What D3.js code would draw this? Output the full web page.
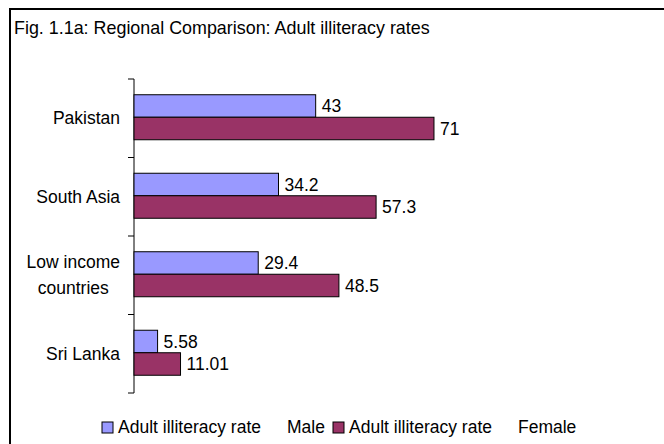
<!DOCTYPE html>
<html>
<head>
<meta charset="utf-8">
<script src="https://cdn.jsdelivr.net/npm/d3@7"></script>
<style>
  html, body { margin: 0; padding: 0; background: #fff; }
  svg { display: block; font-family: "Liberation Sans", Arial, sans-serif; }
</style>
</head>
<body>
<svg id="chart" width="664" height="444"></svg>
<script>
// Regional comparison of adult illiteracy rates (%), male vs female
const categories = ["Pakistan", "South Asia", "Low income\ncountries", "Sri Lanka"];
const seriesNames = ["Adult illiteracy rate   Male", "Adult illiteracy rate   Female"];
const maleValues = [43, 34.2, 29.4, 5.58];
const femaleValues = [71, 57.3, 48.5, 11.01];
const valueLabels = [["43", "34.2", "29.4", "5.58"], ["71", "57.3", "48.5", "11.01"]];
const titleText = "Fig. 1.1a: Regional Comparison: Adult illiteracy rates";

const colors = ["#9999FF", "#993366"];
const fontSize = 17.5;

const svg = d3.select("#chart");

// outer frame (top and left edges visible)
svg.append("path")
  .attr("d", "M10,444 L10,9 L664,9")
  .attr("fill", "none")
  .attr("stroke", "#000")
  .attr("stroke-width", 2);

svg.append("text")
  .attr("x", 14)
  .attr("y", 34)
  .attr("font-size", 17.9)
  .attr("fill", "#000")
  .text(titleText);

// scales
const x = d3.scaleLinear().domain([0, 80]).range([134, 472]);
const y0 = d3.scaleBand().domain(categories).range([79, 393]).paddingInner(0).paddingOuter(0);
const y1 = d3.scaleBand().domain([0, 1]).range([0, y0.bandwidth()]).paddingInner(0).paddingOuter(0.744);

const rows = categories.map((c, i) => ({ cat: c, vals: [maleValues[i], femaleValues[i]], labels: [valueLabels[0][i], valueLabels[1][i]] }));

// category axis: domain line and ticks at band boundaries
const boundaries = categories.map(c => y0(c)).concat([y0.range()[1]]);
const axisG = svg.append("g");
axisG.append("line")
  .attr("x1", x(0)).attr("x2", x(0))
  .attr("y1", y0.range()[0]).attr("y2", y0.range()[1])
  .attr("stroke", "#000").attr("stroke-width", 1);
axisG.selectAll("line.tick").data(boundaries).join("line")
  .attr("class", "tick")
  .attr("x1", x(0) - 6).attr("x2", x(0))
  .attr("y1", d => d).attr("y2", d => d)
  .attr("stroke", "#000").attr("stroke-width", 1);

// category labels (multi-line labels are centred on each other, right-aligned as a block)
const labelRight = 120;
rows.forEach(r => {
  const lines = r.cat.split("\n");
  const cy = y0(r.cat) + y0.bandwidth() / 2;
  const lh = 26;
  const g = svg.append("g");
  const texts = lines.map((ln, k) => g.append("text")
    .attr("y", cy + (k - (lines.length - 1) / 2) * lh)
    .attr("dy", "0.35em")
    .attr("font-size", fontSize)
    .attr("fill", "#000")
    .text(ln));
  const widths = texts.map(t => t.node().getComputedTextLength());
  const maxW = d3.max(widths);
  texts.forEach(t => t.attr("text-anchor", "middle").attr("x", labelRight - maxW / 2));
});

// bars
const groups = svg.selectAll("g.cat").data(rows).join("g")
  .attr("class", "cat")
  .attr("transform", d => `translate(0,${y0(d.cat) - 1})`);

groups.selectAll("rect").data(d => d.vals.map((v, s) => ({ v, s }))).join("rect")
  .attr("x", x(0))
  .attr("y", d => y1(d.s))
  .attr("width", d => x(d.v) - x(0))
  .attr("height", y1.bandwidth())
  .attr("fill", d => colors[d.s])
  .attr("stroke", "#000")
  .attr("stroke-width", 1);

groups.selectAll("text.val").data(d => d.vals.map((v, s) => ({ v, s, label: d.labels[s] }))).join("text")
  .attr("class", "val")
  .attr("x", d => x(d.v) + 6)
  .attr("y", d => y1(d.s) + y1.bandwidth() / 2)
  .attr("dy", "0.35em")
  .attr("font-size", fontSize)
  .attr("fill", "#000")
  .text(d => d.label);

// legend
const legendX = [102, 333];
const legend = svg.append("g");
seriesNames.forEach((name, s) => {
  const parts = name.split(/\s{2,}/);
  legend.append("rect")
    .attr("x", legendX[s]).attr("y", 422)
    .attr("width", 11).attr("height", 11)
    .attr("fill", colors[s]).attr("stroke", "#000").attr("stroke-width", 1);
  const t = legend.append("text")
    .attr("y", 433)
    .attr("font-size", fontSize)
    .attr("fill", "#000");
  t.append("tspan").attr("x", legendX[s] + 16).text(parts[0]);
  t.append("tspan").attr("x", legendX[s] + 185).text(parts[1]);
});
</script>
</body>
</html>
